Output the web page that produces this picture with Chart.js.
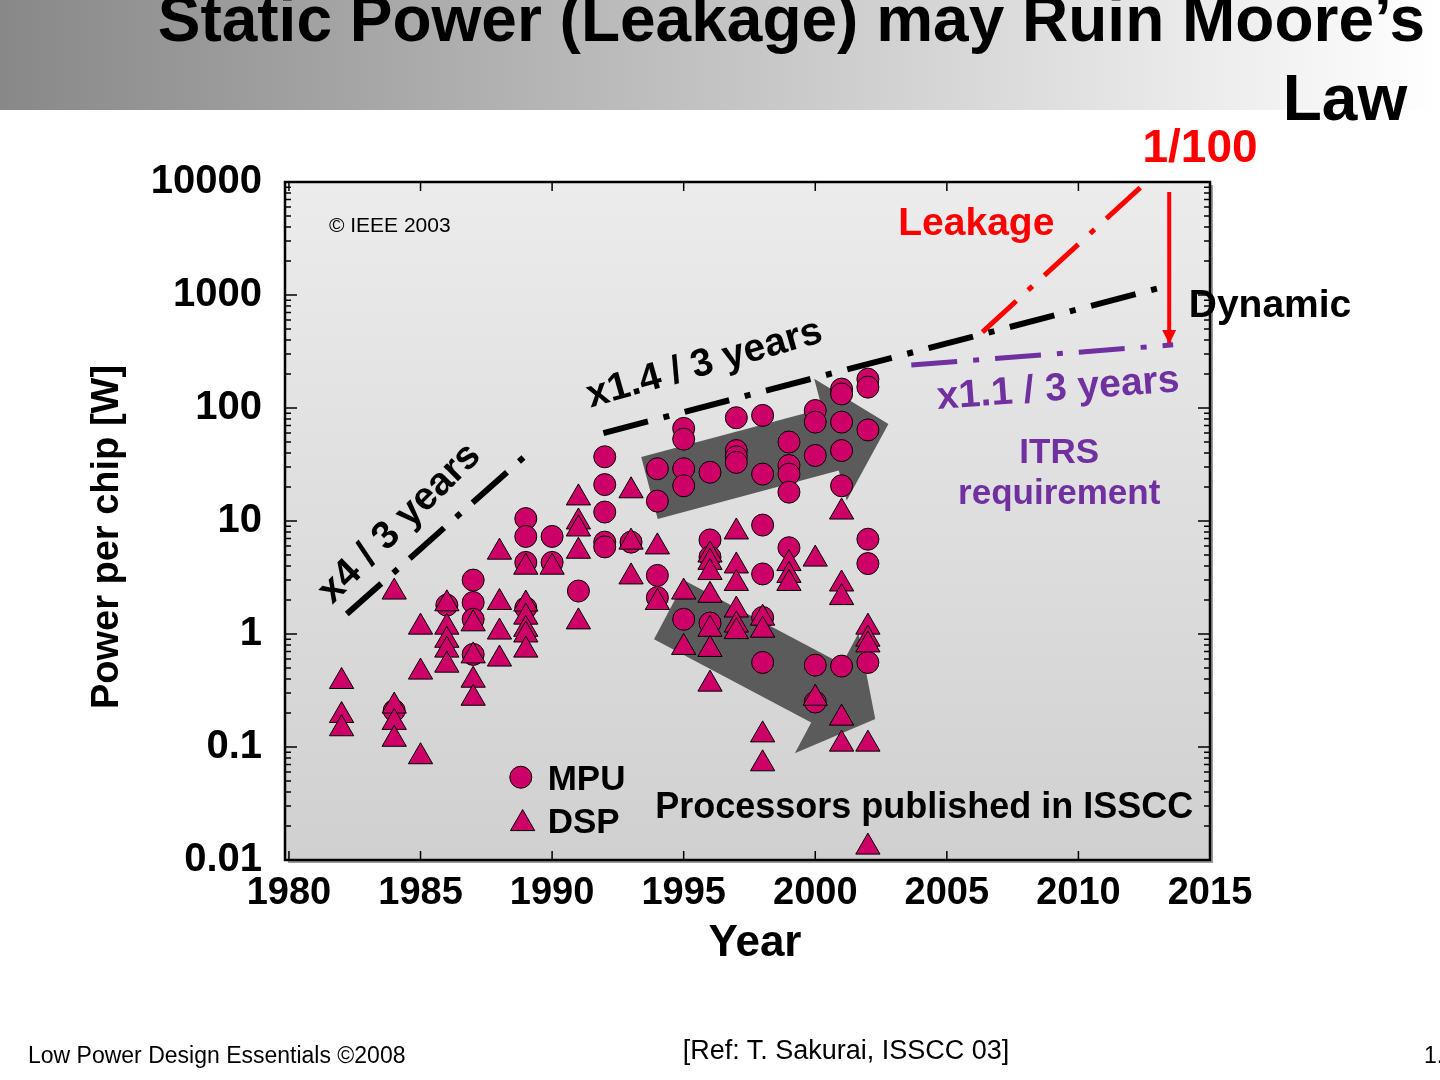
<!DOCTYPE html>
<html>
<head>
<meta charset="utf-8">
<script src="https://cdn.jsdelivr.net/npm/chart.js@4.4.1/dist/chart.umd.min.js"></script>
<style>
  html, body { margin: 0; padding: 0; background: #fff; }
  #slide { position: relative; width: 1440px; height: 1080px; overflow: hidden; font-family: "Liberation Sans", Arial, sans-serif; }
  #band { position: absolute; left: 0; top: 0; width: 1440px; height: 110px; background: linear-gradient(to right, #888888, #ffffff); }
  #title { position: absolute; right: 15px; top: -20px; font-weight: bold; font-size: 64px; line-height: 79px; text-align: right; white-space: pre; color: #000; }
  #chart { position: absolute; left: 0; top: 0; }
  .foot { position: absolute; color: #000; white-space: pre; line-height: 1; }
</style>
</head>
<body>
<div id="slide">
  <div id="band"></div>
  <div id="title">Static Power (Leakage) may Ruin Moore’s
Law </div>
  <canvas id="chart" width="1440" height="1080"></canvas>
  <div class="foot" style="left:28px; top:1044px; font-size:23px;">Low Power Design Essentials ©2008</div>
  <div class="foot" style="left:546px; width:600px; text-align:center; top:1037px; font-size:27px;">[Ref: T. Sakurai, ISSCC 03]</div>
  <div class="foot" style="left:1424px; top:1044px; font-size:23px;">1.</div>
</div>

<script>
// axis ticks
const xTickValues = [1980, 1985, 1990, 1995, 2000, 2005, 2010, 2015];
const yTickValues = [0.01, 0.1, 1, 10, 100, 1000, 10000];
const yTickLabels = ["0.01", "0.1", "1", "10", "100", "1000", "10000"];

// MPU (circles): year, power [W]
const mpuYear = [
  1984,
  1986,
  1987, 1987, 1987, 1987,
  1989, 1989, 1989, 1989,
  1990, 1990,
  1991,
  1992, 1992, 1992, 1992, 1992,
  1993,
  1994, 1994, 1994, 1994,
  1995, 1995, 1995, 1995, 1995,
  1996, 1996, 1996, 1996,
  1997, 1997, 1997, 1997,
  1998, 1998, 1998, 1998, 1998, 1998,
  1999, 1999, 1999, 1999, 1999,
  2000, 2000, 2000, 2000, 2000,
  2001, 2001, 2001, 2001, 2001, 2001,
  2002, 2002, 2002, 2002, 2002, 2002
];
const mpuPower = [
  0.21,
  1.8,
  3.0, 1.9, 1.35, 0.66,
  10.5, 7.3, 4.3, 1.7,
  7.3, 4.3,
  2.4,
  37, 21, 12, 6.5, 5.9,
  6.5,
  29, 15, 3.3, 2.1,
  66, 53, 29, 20.5, 1.35,
  27, 6.8, 4.8, 1.25,
  82, 42, 37, 33,
  86, 26, 9.2, 3.4, 1.4, 0.56,
  50, 31, 26, 18, 5.8,
  95, 75, 38, 0.53, 0.25,
  147, 133, 75, 42, 20.5, 0.52,
  180, 153, 64, 6.9, 4.2, 0.56
];

// DSP (triangles): year, power [W]
const dspYear = [
  1982, 1982, 1982,
  1984, 1984, 1984, 1984,
  1985, 1985, 1985,
  1986, 1986, 1986, 1986, 1986,
  1987, 1987, 1987, 1987,
  1988, 1988, 1988, 1988,
  1989, 1989, 1989, 1989, 1989, 1989,
  1990,
  1991, 1991, 1991, 1991, 1991,
  1993, 1993, 1993,
  1994, 1994,
  1995, 1995,
  1996, 1996, 1996, 1996, 1996, 1996, 1996,
  1997, 1997, 1997, 1997, 1997, 1997,
  1998, 1998, 1998, 1998,
  1999, 1999, 1999,
  2000, 2000,
  2001, 2001, 2001, 2001, 2001,
  2002, 2002, 2002, 2002, 2002
];
const dspPower = [
  0.38, 0.19, 0.145,
  2.35, 0.23, 0.165, 0.117,
  1.15, 0.46, 0.082,
  1.85, 1.15, 0.88, 0.72, 0.53,
  1.23, 0.64, 0.39, 0.27,
  5.3, 1.9, 1.04, 0.6,
  3.9, 1.84, 1.41, 1.1, 0.98, 0.72,
  3.9,
  16, 9.8, 8.5, 5.4, 1.28,
  18.5, 6.5, 3.2,
  5.9, 1.9,
  2.35, 0.76,
  5.0, 4.3, 3.5, 2.2, 1.1, 0.73, 0.36,
  8.0, 4.0, 2.8, 1.63, 1.2, 1.05,
  1.38, 1.08, 0.128, 0.071,
  4.2, 3.3, 2.8,
  4.6, 0.27,
  12, 2.77, 2.1, 0.18, 0.106,
  1.15, 0.9, 0.8, 0.106, 0.013
];

// trend lines (end points)
const x4Year = [1982.2, 1989.0];
const x4Power = [1.5, 38];
const dynYear = [1991.95, 2013.05];
const dynPower = [60, 1150];
const leakYear = [2006.35, 2012.5];
const leakPower = [470, 9600];
const itrsYear = [2003.65, 2013.6];
const itrsPower = [240, 362];
const cutYear = [2013.45, 2013.45];
const cutPower = [8150, 368];

// big grey trend arrows: tail -> tip
const arrowUpYear = [1993.7, 2002.78];
const arrowUpPower = [19.6, 72];
const arrowDownYear = [1994.46, 2002.28];
const arrowDownPower = [1.63, 0.177];

const FONT = '"Liberation Sans", Arial, sans-serif';
const MAGENTA = "#cc0066";
const RED = "#ff0000";
const PURPLE = "#7030a0";

const pts = (xs, ys) => xs.map((x, i) => ({ x: x, y: ys[i] }));

function trend(xs, ys, color, width, dash) {
  return {
    data: pts(xs, ys),
    showLine: true,
    borderColor: color,
    borderWidth: width,
    borderDash: dash,
    borderCapStyle: "butt",
    pointRadius: 0,
    fill: false
  };
}

const notes = [
  { text: "© IEEE 2003", x: 1983.83, y: 4100, size: 21, bold: false, color: "#000" },
  { text: "Leakage", x: 2006.12, y: 4250, size: 39, color: RED },
  { text: "1/100", x: 2014.62, y: 19500, size: 46, color: RED },
  { text: "Dynamic", x: 2017.28, y: 790, size: 39, color: "#000" },
  { text: "x1.4 / 3 years", x: 1995.79, y: 245, size: 39, color: "#000", rot: -15.8 },
  { text: "x4 / 3 years", x: 1984.21, y: 9.5, size: 39, color: "#000", rot: -44.5 },
  { text: "x1.1 / 3 years", x: 2009.23, y: 146, size: 39, color: PURPLE, rot: -4.2 },
  { text: "ITRS", x: 2009.27, y: 40, size: 35, color: PURPLE },
  { text: "requirement", x: 2009.27, y: 17.2, size: 35, color: PURPLE },
  { text: "Processors published in ISSCC", x: 2004.14, y: 0.029, size: 36, color: "#000" }
];

function bigArrow(ctx, x1, y1, x2, y2, bodyHalf, headHalf, headLen) {
  const dx = x2 - x1, dy = y2 - y1, len = Math.hypot(dx, dy);
  const ux = dx / len, uy = dy / len, nx = -uy, ny = ux;
  const bx = x2 - ux * headLen, by = y2 - uy * headLen;
  ctx.beginPath();
  ctx.moveTo(x1 + nx * bodyHalf, y1 + ny * bodyHalf);
  ctx.lineTo(bx + nx * bodyHalf, by + ny * bodyHalf);
  ctx.lineTo(bx + nx * headHalf, by + ny * headHalf);
  ctx.lineTo(x2, y2);
  ctx.lineTo(bx - nx * headHalf, by - ny * headHalf);
  ctx.lineTo(bx - nx * bodyHalf, by - ny * bodyHalf);
  ctx.lineTo(x1 - nx * bodyHalf, y1 - ny * bodyHalf);
  ctx.closePath();
  ctx.fill();
}

function marker(ctx, style, radius, x, y) {
  ctx.fillStyle = MAGENTA;
  ctx.strokeStyle = "#000";
  ctx.lineWidth = 1;
  if (Chart.helpers && Chart.helpers.drawPoint) {
    Chart.helpers.drawPoint(ctx, { pointStyle: style, radius: radius, borderWidth: 1, rotation: 0 }, x, y);
  }
}

const decor = {
  id: "decor",
  beforeDraw(chart) {
    const { ctx, chartArea: a } = chart;
    ctx.save();
    ctx.fillStyle = "#9c9c9c";
    ctx.fillRect(a.left + 3, a.top + 3, a.width, a.height);
    const g = ctx.createLinearGradient(0, a.top, 0, a.bottom);
    g.addColorStop(0, "#ececec");
    g.addColorStop(1, "#d0d0d0");
    ctx.fillStyle = g;
    ctx.fillRect(a.left, a.top, a.width, a.height);
    ctx.restore();
  },
  beforeDatasetsDraw(chart) {
    const { ctx, scales: { x, y } } = chart;
    ctx.save();
    ctx.fillStyle = "#5b5b5b";
    bigArrow(ctx,
      x.getPixelForValue(arrowUpYear[0]), y.getPixelForValue(arrowUpPower[0]),
      x.getPixelForValue(arrowUpYear[1]), y.getPixelForValue(arrowUpPower[1]),
      32, 63, 60);
    bigArrow(ctx,
      x.getPixelForValue(arrowDownYear[0]), y.getPixelForValue(arrowDownPower[0]),
      x.getPixelForValue(arrowDownYear[1]), y.getPixelForValue(arrowDownPower[1]),
      33, 68, 55);
    ctx.restore();
  },
  afterDatasetsDraw(chart) {
    const { ctx, chartArea: a, scales: { x, y } } = chart;
    ctx.save();
    // red arrow head
    const cut = chart.getDatasetMeta(4).data;
    const tip = cut[cut.length - 1];
    ctx.fillStyle = RED;
    ctx.beginPath();
    ctx.moveTo(tip.x, tip.y);
    ctx.lineTo(tip.x - 7, tip.y - 14);
    ctx.lineTo(tip.x + 7, tip.y - 14);
    ctx.closePath();
    ctx.fill();

    // inner ticks
    ctx.strokeStyle = "#000";
    ctx.lineWidth = 1.5;
    ctx.beginPath();
    for (let e = -2; e < 4; e++) {
      for (let k = 1; k < 10; k++) {
        const py = y.getPixelForValue(k * Math.pow(10, e));
        const len = k === 1 ? 12 : 6;
        ctx.moveTo(a.left, py); ctx.lineTo(a.left + len, py);
        ctx.moveTo(a.right, py); ctx.lineTo(a.right - len, py);
      }
    }
    xTickValues.forEach(v => {
      const px = x.getPixelForValue(v);
      ctx.moveTo(px, a.bottom); ctx.lineTo(px, a.bottom - 9);
      ctx.moveTo(px, a.top); ctx.lineTo(px, a.top + 9);
    });
    ctx.stroke();
    ctx.lineWidth = 2.5;
    ctx.strokeRect(a.left, a.top, a.width, a.height);
    ctx.restore();
  },
  afterDraw(chart) {
    const { ctx, scales: { x, y } } = chart;
    ctx.save();
    ctx.textAlign = "center";
    ctx.textBaseline = "middle";
    notes.forEach(n => {
      ctx.save();
      ctx.translate(x.getPixelForValue(n.x), y.getPixelForValue(n.y));
      if (n.rot) ctx.rotate(n.rot * Math.PI / 180);
      ctx.font = (n.bold === false ? "" : "bold ") + n.size + "px " + FONT;
      ctx.fillStyle = n.color;
      ctx.fillText(n.text, 0, 0);
      ctx.restore();
    });

    // legend
    marker(ctx, "circle", 11, x.getPixelForValue(1988.81), y.getPixelForValue(0.054));
    marker(ctx, "triangle", 14, x.getPixelForValue(1988.88), y.getPixelForValue(0.021));
    ctx.fillStyle = "#000";
    ctx.textAlign = "left";
    ctx.font = "bold 35px " + FONT;
    ctx.fillText("MPU", x.getPixelForValue(1989.83), y.getPixelForValue(0.051));
    ctx.fillText("DSP", x.getPixelForValue(1989.83), y.getPixelForValue(0.0213));

    // axis titles
    ctx.textAlign = "center";
    ctx.font = "bold 44px " + FONT;
    ctx.fillText("Year", 755, 944);
    ctx.translate(108, 537);
    ctx.rotate(-Math.PI / 2);
    ctx.font = "bold 38px " + FONT;
    ctx.fillText("Power per chip [W]", 0, 0);
    ctx.restore();
  }
};

Chart.defaults.font.family = FONT;
Chart.defaults.color = "#000";

new Chart(document.getElementById("chart").getContext("2d"), {
  type: "scatter",
  data: {
    datasets: [
      trend(x4Year, x4Power, "#000", 6, [46, 16, 6, 16]),
      trend(dynYear, dynPower, "#000", 6, [46, 16, 6, 16]),
      trend(leakYear, leakPower, RED, 5, [46, 16, 6, 16]),
      trend(itrsYear, itrsPower, PURPLE, 5, [46, 16, 6, 16]),
      trend(cutYear, cutPower, RED, 4, []),
      {
        label: "DSP",
        data: pts(dspYear, dspPower),
        pointStyle: "triangle",
        pointRadius: 14,
        backgroundColor: MAGENTA,
        borderColor: "#000",
        borderWidth: 1
      },
      {
        label: "MPU",
        data: pts(mpuYear, mpuPower),
        pointStyle: "circle",
        pointRadius: 11,
        backgroundColor: MAGENTA,
        borderColor: "#000",
        borderWidth: 1
      }
    ]
  },
  options: {
    responsive: false,
    animation: false,
    layout: { padding: { top: 182, left: 0, right: 230, bottom: 100 } },
    plugins: { legend: { display: false }, tooltip: { enabled: false } },
    scales: {
      x: {
        type: "linear",
        bounds: "data",
        min: 1979.85,
        max: 2015,
        afterBuildTicks: s => { s.ticks = xTickValues.map(v => ({ value: v })); },
        afterFit: s => { s.height = 120; },
        grid: { display: false, drawTicks: false },
        border: { display: false },
        ticks: {
          color: "#000",
          font: { size: 38, weight: "bold" },
          padding: 11,
          maxRotation: 0,
          autoSkip: false,
          callback: v => String(v)
        }
      },
      y: {
        type: "logarithmic",
        bounds: "data",
        min: 0.01,
        max: 10000,
        afterBuildTicks: s => { s.ticks = yTickValues.map(v => ({ value: v })); },
        afterFit: s => { s.width = 285; },
        grid: { display: false, drawTicks: false },
        border: { display: false },
        ticks: {
          color: "#000",
          font: { size: 40, weight: "bold" },
          padding: 23,
          autoSkip: false,
          callback: (v, i) => yTickLabels[i]
        }
      }
    }
  },
  plugins: [decor]
});
</script>
</body>
</html>
